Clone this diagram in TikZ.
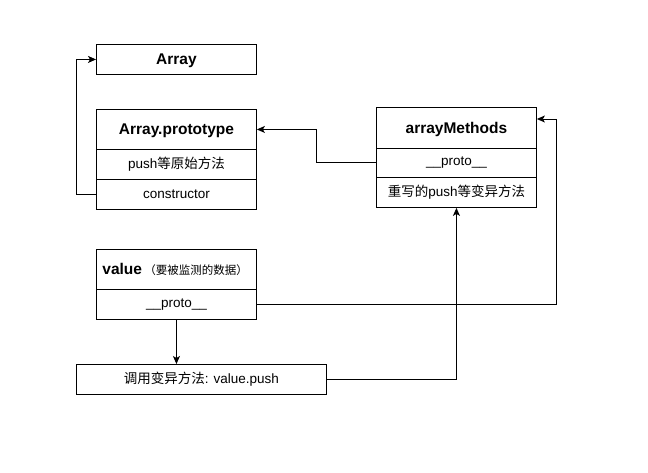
\documentclass[tikz,border=0pt]{standalone}
\usepackage{fontspec}
\setmainfont{Liberation Sans}
\newfontfamily\cjk{Noto Sans CJK SC}
\usetikzlibrary{arrows.meta,calc}
\begin{document}
\begin{tikzpicture}[x=1pt,y=-1pt,
  box/.style={draw, line width=0.9pt, minimum width=160pt, inner sep=0pt, anchor=north west, font=\fontsize{13.5}{16}\selectfont},
  head/.style={box, font=\fontsize{15.5}{18}\selectfont\bfseries},
  conn/.style={line width=0.9pt},
  arr/.style={conn, -{Stealth[length=8pt,width=7pt,inset=2pt]}}]
\useasboundingbox (0,0) rectangle (648,473);
% Array
\node[head, minimum height=30pt, text depth=1pt] (arr) at (96,44) {Array};
% Array.prototype
\node[head, minimum height=40pt, text depth=1pt] (proto) at (96,109) {Array.prototype};
\node[box, minimum height=30pt] (push) at (96,149) {push{\cjk 等原始方法}};
\node[box, minimum height=30pt] (ctor) at (96,179) {constructor};
% arrayMethods
\node[head, minimum height=41pt, text depth=1pt] (am) at (376,107) {arrayMethods};
\node[box, minimum height=29pt] (amproto) at (376,148) {\_\_proto\_\_};
\node[box, minimum height=30pt] (ampush) at (376,177) {{\cjk 重写的}push{\cjk 等变异方法}};
% value
\node[box, minimum height=40pt, text width=148pt, inner xsep=6pt, align=left] (val) at (96,249) {{\fontsize{15.5}{18}\selectfont\bfseries value}\,{\cjk\fontsize{11.5}{13}\selectfont（要被监测的数据）}};
\node[box, minimum height=30pt] (vproto) at (96,289) {\_\_proto\_\_};
% call
\node[box, minimum width=250pt, minimum height=30pt] (call) at (76,364) {{\cjk 调用变异方法}: value.push};
% connectors
\draw[arr] (ctor.west) -- ++(-20,0) |- (arr.west);
\draw[arr] (amproto.west) -- ++(-60,0) |- (proto.east);
\coordinate (amin) at ($(am.north east)+(0,12)$);
\draw[arr] (vproto.east) -| ([xshift=20pt]amin) -- (amin);
\draw[arr] (vproto.south) -- (vproto.south |- call.north);
\draw[arr] (call.east) -| (ampush.south);
\end{tikzpicture}
\end{document}
